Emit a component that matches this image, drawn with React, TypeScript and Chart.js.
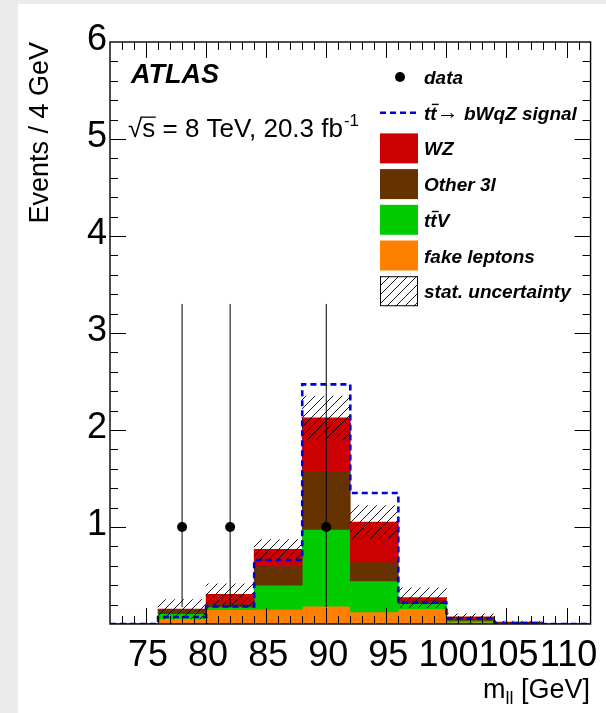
import React, { useEffect, useRef } from "react";
import { Chart, registerables } from "chart.js";

Chart.register(...registerables);

// ---- data ----
const binEdges = [72, 76, 80, 84, 88, 92, 96, 100, 104, 108, 112];
const fakeLeptons = [0, 0.055, 0.148, 0.15, 0.185, 0.124, 0.158, 0.02, 0.005, 0];
const ttV = [0, 0.052, 0.027, 0.25, 0.79, 0.32, 0.052, 0.018, 0.01, 0];
const other3l = [0, 0.041, 0.035, 0.2, 0.605, 0.197, 0.034, 0.012, 0.003, 0];
const wz = [0, 0.005, 0.095, 0.17, 0.545, 0.41, 0.028, 0.025, 0.002, 0];
const statUnc = [0, 0.1, 0.11, 0.1, 0.225, 0.17, 0.1, 0.03, 0.01, 0];
const signal = [0, 0.072, 0.18, 0.66, 2.47, 1.35, 0.22, 0.058, 0.01, 0];
const dataX = [78, 82, 90];
const dataY = [1, 1, 1];
const dataErrLow = [0.827, 0.827, 0.827];
const dataErrHigh = [2.3, 2.3, 2.3];
const xTickLabels = [75, 80, 85, 90, 95, 100, 105, 110];
const yTickLabels = [1, 2, 3, 4, 5, 6];
const xMinorStep = 1;
const xMajorStep = 5;
const yMinorStep = 0.2;

const FONT = '"Liberation Sans", Arial, Helvetica, sans-serif';
const COLORS = {
  fake: "#ff8000",
  ttv: "#00cc00",
  other: "#663300",
  wz: "#cc0000",
  signal: "#0000dd",
};

function makeHatch(): CanvasPattern | string {
  const c = document.createElement("canvas");
  c.width = 9;
  c.height = 9;
  const g = c.getContext("2d");
  if (!g) return "rgba(0,0,0,0.3)";
  g.strokeStyle = "#000";
  g.lineWidth = 0.9;
  g.beginPath();
  g.moveTo(-1, 10);
  g.lineTo(10, -1);
  g.moveTo(-1, 1);
  g.lineTo(1, -1);
  g.moveTo(8, 10);
  g.lineTo(10, 8);
  g.stroke();
  return g.createPattern(c, "repeat") || "rgba(0,0,0,0.3)";
}

export default function App() {
  const ref = useRef<HTMLCanvasElement>(null);

  useEffect(() => {
    document.body.style.margin = "0";
    const canvas = ref.current;
    if (!canvas) return;
    const hatch = makeHatch();
    const centers = binEdges.slice(0, -1).map((e, i) => (e + binEdges[i + 1]) / 2);

    const layers = [
      { label: "fake leptons", values: fakeLeptons, color: COLORS.fake },
      { label: "ttV", values: ttV, color: COLORS.ttv },
      { label: "Other 3l", values: other3l, color: COLORS.other },
      { label: "WZ", values: wz, color: COLORS.wz },
    ];
    let cum = centers.map(() => 0);
    const stackSets: any[] = layers.map((L, k) => {
      const lo = cum.slice();
      cum = cum.map((c, i) => c + L.values[i]);
      const hi = cum.slice();
      return {
        type: "bar",
        label: L.label,
        data: centers.map((x, i) => ({ x, y: [lo[i], hi[i]] })),
        backgroundColor: L.color,
        borderWidth: 0,
        grouped: false,
        barPercentage: 1,
        categoryPercentage: 1,
        order: 20 - k,
      };
    });
    const total = cum;
    const hatchSet: any = {
      type: "bar",
      label: "stat. uncertainty",
      data: centers.map((x, i) => ({
        x,
        y: [Math.max(0, total[i] - statUnc[i]), total[i] + statUnc[i]],
      })),
      backgroundColor: hatch,
      borderWidth: 0,
      grouped: false,
      barPercentage: 1,
      categoryPercentage: 1,
      order: 10,
    };
    const signalSet: any = {
      type: "line",
      label: "signal",
      data: binEdges.map((e, i) => ({ x: e, y: signal[Math.min(i, signal.length - 1)] })),
      stepped: true,
      borderColor: COLORS.signal,
      borderWidth: 2.6,
      borderDash: [6, 4],
      pointRadius: 0,
      fill: false,
      order: 5,
    };
    const errSets: any[] = dataX.map((x, i) => ({
      type: "line",
      label: "err" + i,
      data: [
        { x, y: dataY[i] - dataErrLow[i] },
        { x, y: dataY[i] + dataErrHigh[i] },
      ],
      borderColor: "#000",
      borderWidth: 1,
      pointRadius: 0,
      fill: false,
      order: 2,
    }));
    const dataSet: any = {
      type: "line",
      label: "data",
      data: dataX.map((x, i) => ({ x, y: dataY[i] })),
      showLine: false,
      pointRadius: 5,
      pointBackgroundColor: "#000",
      pointBorderWidth: 0,
      borderColor: "#000",
      order: 1,
    };

    const decor = {
      id: "atlasDecor",
      afterDraw(chart: any) {
        const { ctx, chartArea: a, scales } = chart;
        const xs = scales.x;
        const ys = scales.y;
        ctx.save();
        ctx.strokeStyle = "#000";
        ctx.fillStyle = "#000";
        // ticks
        ctx.lineWidth = 1;
        ctx.beginPath();
        const xmin = binEdges[0];
        const xmax = binEdges[binEdges.length - 1];
        for (let v = Math.ceil(xmin + 1e-9); v < xmax; v += xMinorStep) {
          const px = Math.round(xs.getPixelForValue(v)) + 0.5;
          const len = v % xMajorStep === 0 ? 16 : 8;
          ctx.moveTo(px, a.bottom);
          ctx.lineTo(px, a.bottom - len);
          ctx.moveTo(px, a.top);
          ctx.lineTo(px, a.top + len);
        }
        const nY = Math.round(6 / yMinorStep);
        for (let k = 1; k < nY; k++) {
          const v = k * yMinorStep;
          const py = Math.round(ys.getPixelForValue(v)) + 0.5;
          const len = k % 5 === 0 ? 16 : 8;
          ctx.moveTo(a.left, py);
          ctx.lineTo(a.left + len, py);
          ctx.moveTo(a.right, py);
          ctx.lineTo(a.right - len, py);
        }
        ctx.stroke();
        // frame
        ctx.lineWidth = 1.4;
        ctx.strokeRect(a.left, a.top, a.right - a.left, a.bottom - a.top);

        // ATLAS label
        ctx.textBaseline = "alphabetic";
        ctx.textAlign = "left";
        ctx.font = `italic bold 27px ${FONT}`;
        ctx.fillText("ATLAS", 131, 83);

        // sqrt(s) text
        ctx.font = `26px ${FONT}`;
        let xx = 128;
        const by = 137;
        ctx.fillText("\u221A", xx, by);
        xx += ctx.measureText("\u221A").width;
        const sw = ctx.measureText("s").width;
        ctx.fillText("s", xx, by);
        ctx.fillRect(xx - 0.5, by - 20.5, sw + 1, 1.3);
        xx += sw;
        const rest = " = 8 TeV, 20.3 fb";
        ctx.fillText(rest, xx, by);
        xx += ctx.measureText(rest).width;
        ctx.font = `17px ${FONT}`;
        ctx.fillText("-1", xx + 1, by - 11);

        // y title
        ctx.save();
        ctx.font = `27px ${FONT}`;
        ctx.translate(48, 42);
        ctx.rotate(-Math.PI / 2);
        ctx.textAlign = "right";
        ctx.fillText("Events / 4 GeV", 0, 0);
        ctx.restore();

        // x title m_ll [GeV]
        {
          const big = `27px ${FONT}`;
          const small = `18px ${FONT}`;
          ctx.font = big;
          const wm = ctx.measureText("m").width;
          const wr = ctx.measureText(" [GeV]").width;
          ctx.font = small;
          const wl = ctx.measureText("ll").width;
          const tot = wm + wl + wr;
          let tx = 590 - tot;
          const tb = 698;
          ctx.font = big;
          ctx.fillText("m", tx, tb);
          tx += wm;
          ctx.font = small;
          ctx.fillText("ll", tx, tb + 6);
          tx += wl;
          ctx.font = big;
          ctx.fillText(" [GeV]", tx, tb);
        }

        // legend
        const lx = 380;
        const bw = 38;
        const bh = 30;
        const tx0 = 424;
        const row = (i: number) => 77 + i * 35.7;
        const lf = `italic bold 19px ${FONT}`;
        ctx.font = lf;
        // data
        ctx.beginPath();
        ctx.arc(lx + bw / 2 + 1, row(0), 5, 0, Math.PI * 2);
        ctx.fill();
        ctx.fillText("data", tx0, row(0) + 7);
        // signal
        ctx.save();
        ctx.strokeStyle = COLORS.signal;
        ctx.lineWidth = 2.6;
        ctx.setLineDash([6, 4]);
        ctx.beginPath();
        ctx.moveTo(lx, row(1));
        ctx.lineTo(lx + bw, row(1));
        ctx.stroke();
        ctx.restore();
        const drawTtbar = (x0: number, base: number) => {
          const wt = ctx.measureText("t").width;
          ctx.fillText("t", x0, base);
          ctx.fillText("t", x0 + wt, base);
          ctx.fillRect(x0 + wt + 1.5, base - 16, wt + 0.5, 1.4);
          return x0 + 2 * wt;
        };
        {
          const b = row(1) + 7;
          let x1 = drawTtbar(tx0, b);
          ctx.font = `22px ${FONT}`;
          ctx.fillText("\u2192", x1, b - 1);
          x1 += ctx.measureText("\u2192").width;
          ctx.font = lf;
          ctx.fillText(" bWqZ signal", x1, b);
        }
        const boxes = [
          { label: "WZ", color: COLORS.wz },
          { label: "Other 3l", color: COLORS.other },
          { label: "ttV", color: COLORS.ttv },
          { label: "fake leptons", color: COLORS.fake },
        ];
        boxes.forEach((B, j) => {
          const c = row(2 + j);
          ctx.fillStyle = B.color;
          ctx.fillRect(lx, c - bh / 2, bw, bh);
          ctx.fillStyle = "#000";
          if (B.label === "ttV") {
            const x1 = drawTtbar(tx0, c + 7);
            ctx.fillText("V", x1, c + 7);
          } else {
            ctx.fillText(B.label, tx0, c + 7);
          }
        });
        {
          const c = row(6);
          ctx.fillStyle = hatch as any;
          ctx.fillRect(lx, c - bh / 2, bw, bh);
          ctx.fillStyle = "#000";
          ctx.lineWidth = 1;
          ctx.strokeRect(lx + 0.5, c - bh / 2 + 0.5, bw - 1, bh - 1);
          ctx.fillText("stat. uncertainty", tx0, c + 7);
        }
        ctx.restore();
      },
    };

    const chart = new Chart(canvas, {
      type: "bar",
      data: {
        datasets: [...stackSets, hatchSet, signalSet, ...errSets, dataSet],
      },
      options: {
        responsive: false,
        maintainAspectRatio: false,
        animation: false,
        events: [],
        layout: { padding: { left: 0, top: 42, right: 15, bottom: 0 } },
        plugins: {
          legend: { display: false },
          tooltip: { enabled: false },
          title: { display: false },
        },
        scales: {
          x: {
            type: "linear",
            min: binEdges[0],
            max: binEdges[binEdges.length - 1],
            offset: false,
            stacked: false,
            border: { display: false },
            grid: { display: false, drawTicks: false, offset: false },
            ticks: {
              autoSkip: false,
              maxRotation: 0,
              minRotation: 0,
              padding: 10,
              labelOffset: 2,
              color: "#000",
              font: { family: FONT, size: 36 },
              callback: (v: any) => String(v),
            },
            afterBuildTicks: (s: any) => {
              s.ticks = xTickLabels.map((v) => ({ value: v }));
            },
            afterFit: (s: any) => {
              s.height = 89;
            },
          },
          y: {
            type: "linear",
            min: 0,
            max: 6,
            stacked: false,
            border: { display: false },
            grid: { display: false, drawTicks: false },
            ticks: {
              padding: 3,
              labelOffset: -2,
              color: "#000",
              font: { family: FONT, size: 36 },
              callback: (v: any) => String(v),
            },
            afterBuildTicks: (s: any) => {
              s.ticks = yTickLabels.map((v) => ({ value: v }));
            },
            afterFit: (s: any) => {
              s.width = 110;
            },
          },
        },
      } as any,
      plugins: [decor],
    });
    return () => chart.destroy();
  }, []);

  return (
    <div
      style={{
        position: "relative",
        width: 606,
        height: 713,
        background: "#ebebeb",
        overflow: "hidden",
      }}
    >
      <div
        style={{
          position: "absolute",
          left: 18,
          top: 4,
          right: 0,
          bottom: 0,
          background: "#ffffff",
        }}
      />
      <canvas
        ref={ref}
        width={606}
        height={713}
        style={{ position: "absolute", left: 0, top: 0, width: 606, height: 713 }}
      />
    </div>
  );
}
